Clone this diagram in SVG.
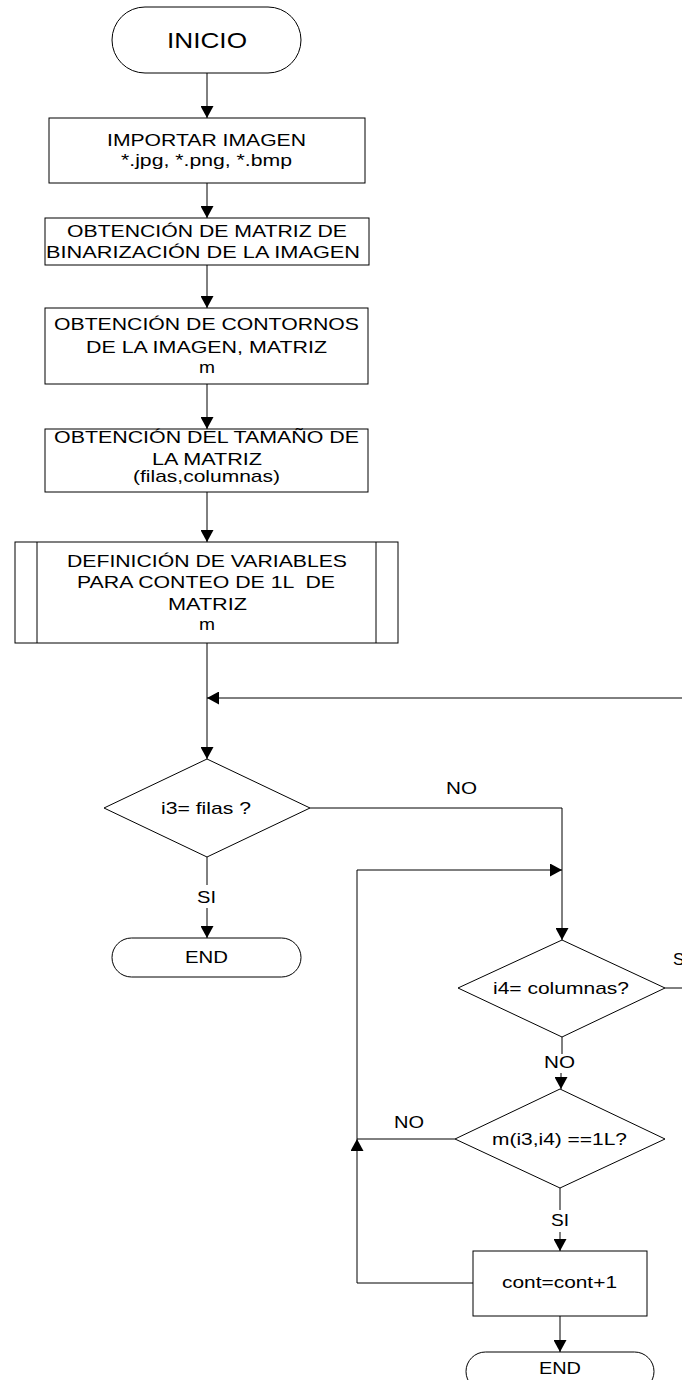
<svg xmlns="http://www.w3.org/2000/svg" width="682" height="1380" viewBox="0 0 682 1380">
<defs>
<marker id="ah" markerUnits="userSpaceOnUse" markerWidth="13" markerHeight="13" refX="12" refY="6.5" orient="auto" viewBox="0 0 13 13">
<path d="M0,0 L12,6.5 L0,13 z" fill="#000"/>
</marker>
</defs>
<style>
.s{fill:#fff;stroke:#000;stroke-width:1}
.c{fill:none;stroke:#000;stroke-width:1;marker-end:url(#ah)}
.l{fill:none;stroke:#000;stroke-width:1}
text{font-family:"Liberation Sans",Arial,sans-serif;font-size:17px;fill:#000;text-anchor:middle}
</style>
<rect width="682" height="1380" fill="#fff"/>
<g id="connectors">
<line class="c" x1="207" y1="73" x2="207" y2="118"/>
<line class="c" x1="207" y1="183" x2="207" y2="218"/>
<line class="c" x1="207" y1="265" x2="207" y2="308"/>
<line class="c" x1="207" y1="384" x2="207" y2="429"/>
<line class="c" x1="207" y1="492" x2="207" y2="542"/>
<line class="c" x1="207" y1="643" x2="207" y2="759"/>
<line class="c" x1="682" y1="698" x2="207" y2="698"/>
<line class="l" x1="207" y1="857" x2="207" y2="885"/>
<line class="c" x1="207" y1="908" x2="207" y2="938"/>
<polyline class="c" points="310,808 562,808 562,940"/>
<line class="l" x1="665" y1="988" x2="682" y2="988"/>
<line class="l" x1="562" y1="1037" x2="562" y2="1054"/>
<line class="c" x1="561" y1="1073" x2="561" y2="1089"/>
<line class="l" x1="455" y1="1139" x2="357" y2="1139"/>
<polyline class="c" points="357,1139 357,870 562,870"/>
<polyline class="c" points="473,1283 357,1283 357,1139"/>
<line class="l" x1="560" y1="1188" x2="560" y2="1210"/>
<line class="c" x1="560" y1="1232" x2="560" y2="1251"/>
<line class="c" x1="560" y1="1316" x2="560" y2="1352"/>
</g>
<g id="n-inicio">
<rect class="s" x="112" y="7" width="189" height="66" rx="33" ry="33"/>
<text x="207" y="48" font-size="22" style="font-size:22px" textLength="80" lengthAdjust="spacingAndGlyphs">INICIO</text>
</g>
<g id="n-importar">
<rect class="s" x="49" y="118" width="316" height="65"/>
<text x="206.5" y="146" textLength="199" lengthAdjust="spacingAndGlyphs">IMPORTAR IMAGEN</text>
<text x="206.5" y="166" textLength="171" lengthAdjust="spacingAndGlyphs">*.jpg, *.png, *.bmp</text>
</g>
<g id="n-binarizacion">
<rect class="s" x="45" y="218" width="324" height="47"/>
<text x="207" y="237" textLength="280" lengthAdjust="spacingAndGlyphs">OBTENCIÓN DE MATRIZ DE</text>
<text x="203" y="258" textLength="314" lengthAdjust="spacingAndGlyphs">BINARIZACIÓN DE LA IMAGEN</text>
</g>
<g id="n-contornos">
<rect class="s" x="45" y="308" width="323" height="76"/>
<text x="206.5" y="330" textLength="305" lengthAdjust="spacingAndGlyphs">OBTENCIÓN DE CONTORNOS</text>
<text x="206.5" y="353" textLength="241" lengthAdjust="spacingAndGlyphs">DE LA IMAGEN, MATRIZ</text>
<text x="207" y="373" textLength="16" lengthAdjust="spacingAndGlyphs">m</text>
</g>
<g id="n-tamano">
<rect class="s" x="45" y="429" width="323" height="63"/>
<text x="206.5" y="443" textLength="305" lengthAdjust="spacingAndGlyphs">OBTENCIÓN DEL TAMAÑO DE</text>
<text x="207" y="465" textLength="110" lengthAdjust="spacingAndGlyphs">LA MATRIZ</text>
<text x="206.5" y="482" textLength="147" lengthAdjust="spacingAndGlyphs">(filas,columnas)</text>
</g>
<g id="n-definicion">
<rect class="s" x="15" y="542" width="383" height="101"/>
<line class="l" x1="37" y1="542" x2="37" y2="643"/>
<line class="l" x1="376" y1="542" x2="376" y2="643"/>
<text x="207" y="567" textLength="280" lengthAdjust="spacingAndGlyphs">DEFINICIÓN DE VARIABLES</text>
<text x="206" y="588" xml:space="preserve" textLength="258" lengthAdjust="spacingAndGlyphs">PARA CONTEO DE 1L  DE</text>
<text x="207.5" y="610" textLength="79" lengthAdjust="spacingAndGlyphs">MATRIZ</text>
<text x="207" y="630" textLength="16" lengthAdjust="spacingAndGlyphs">m</text>
</g>
<g id="n-i3">
<polygon class="s" points="207,759 310,808 207,857 104,808"/>
<text x="206" y="814" textLength="90" lengthAdjust="spacingAndGlyphs">i3= filas ?</text>
</g>
<g id="n-end1">
<rect class="s" x="112" y="938" width="189" height="39" rx="19.5" ry="19.5"/>
<text x="206.5" y="963" textLength="43" lengthAdjust="spacingAndGlyphs">END</text>
</g>
<g id="n-i4">
<polygon class="s" points="562,940 665,988 562,1037 458,988"/>
<text x="561" y="994" textLength="136" lengthAdjust="spacingAndGlyphs">i4= columnas?</text>
</g>
<g id="n-m">
<polygon class="s" points="560,1089 665,1139 560,1188 455,1139"/>
<text x="559.5" y="1145" textLength="135" lengthAdjust="spacingAndGlyphs">m(i3,i4) ==1L?</text>
</g>
<g id="n-cont">
<rect class="s" x="473" y="1251" width="174" height="65"/>
<text x="559.5" y="1288" textLength="115" lengthAdjust="spacingAndGlyphs">cont=cont+1</text>
</g>
<g id="n-end2">
<rect class="s" x="466" y="1352" width="188" height="39" rx="19.5" ry="19.5"/>
<text x="560" y="1374" textLength="42" lengthAdjust="spacingAndGlyphs">END</text>
</g>
<g id="labels">
<text x="461.5" y="794" textLength="31" lengthAdjust="spacingAndGlyphs">NO</text>
<text x="206.5" y="903" textLength="19" lengthAdjust="spacingAndGlyphs">SI</text>
<text x="673" y="965" style="text-anchor:start">S</text>
<text x="559.5" y="1068" textLength="31" lengthAdjust="spacingAndGlyphs">NO</text>
<text x="409" y="1128" textLength="30" lengthAdjust="spacingAndGlyphs">NO</text>
<text x="560" y="1226" textLength="18" lengthAdjust="spacingAndGlyphs">SI</text>
</g>
</svg>
